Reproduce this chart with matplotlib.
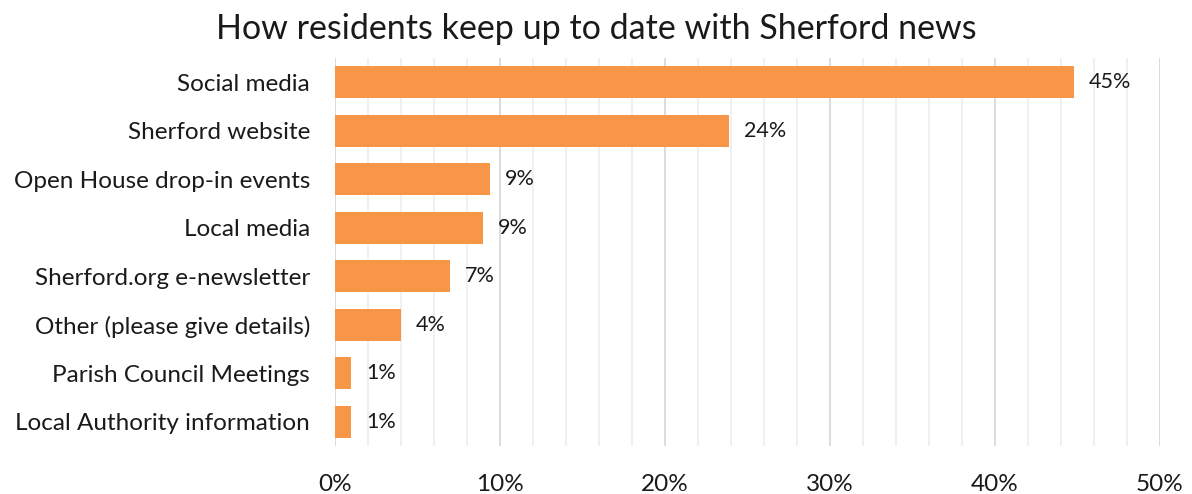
import numpy as np
import matplotlib.pyplot as plt
from matplotlib.ticker import MultipleLocator, FuncFormatter

plt.rcParams['font.family'] = ['Lato', 'DejaVu Sans']

categories = ["Social media", "Sherford website", "Open House drop-in events",
              "Local media", "Sherford.org e-newsletter", "Other (please give details)",
              "Parish Council Meetings", "Local Authority information"]
values = [44.8, 23.9, 9.4, 9.0, 7.0, 4.0, 1.0, 1.0]

fig = plt.figure(figsize=(11.92, 4.94), dpi=100)
ax = fig.add_axes([0.281, 0.097, 0.692, 0.786])

y = np.arange(len(categories))
ax.barh(y, values, height=0.66, color="#F79646", zorder=3)
for yi, v in zip(y, values):
    ax.text(v + 0.9, yi, f"{round(v):.0f}%", va="center", ha="left", fontsize=15.5, color="#1a1a1a")

ax.set_yticks(y)
ax.set_yticklabels(categories, fontsize=17.5, color="#1a1a1a")
ax.set_ylim(len(categories) - 0.5, -0.5)
ax.set_xlim(0, 50)
ax.xaxis.set_major_locator(MultipleLocator(10))
ax.xaxis.set_minor_locator(MultipleLocator(2))
ax.xaxis.set_major_formatter(FuncFormatter(lambda v, p: f"{v:.0f}%"))
ax.tick_params(axis="x", which="both", length=0, labelsize=17.5, pad=20, labelcolor="#1a1a1a")
ax.tick_params(axis="y", length=0, pad=18)
ax.grid(axis="x", which="major", color="#d9d9d9", lw=1.3, zorder=0)
ax.grid(axis="x", which="minor", color="#efefef", lw=1.3, zorder=0)
for s in ax.spines.values():
    s.set_visible(False)

fig.text(0.5, 0.942, "How residents keep up to date with Sherford news", ha="center", va="center",
         fontsize=24.5, color="#1a1a1a")

fig.savefig("out.png", dpi=100)
